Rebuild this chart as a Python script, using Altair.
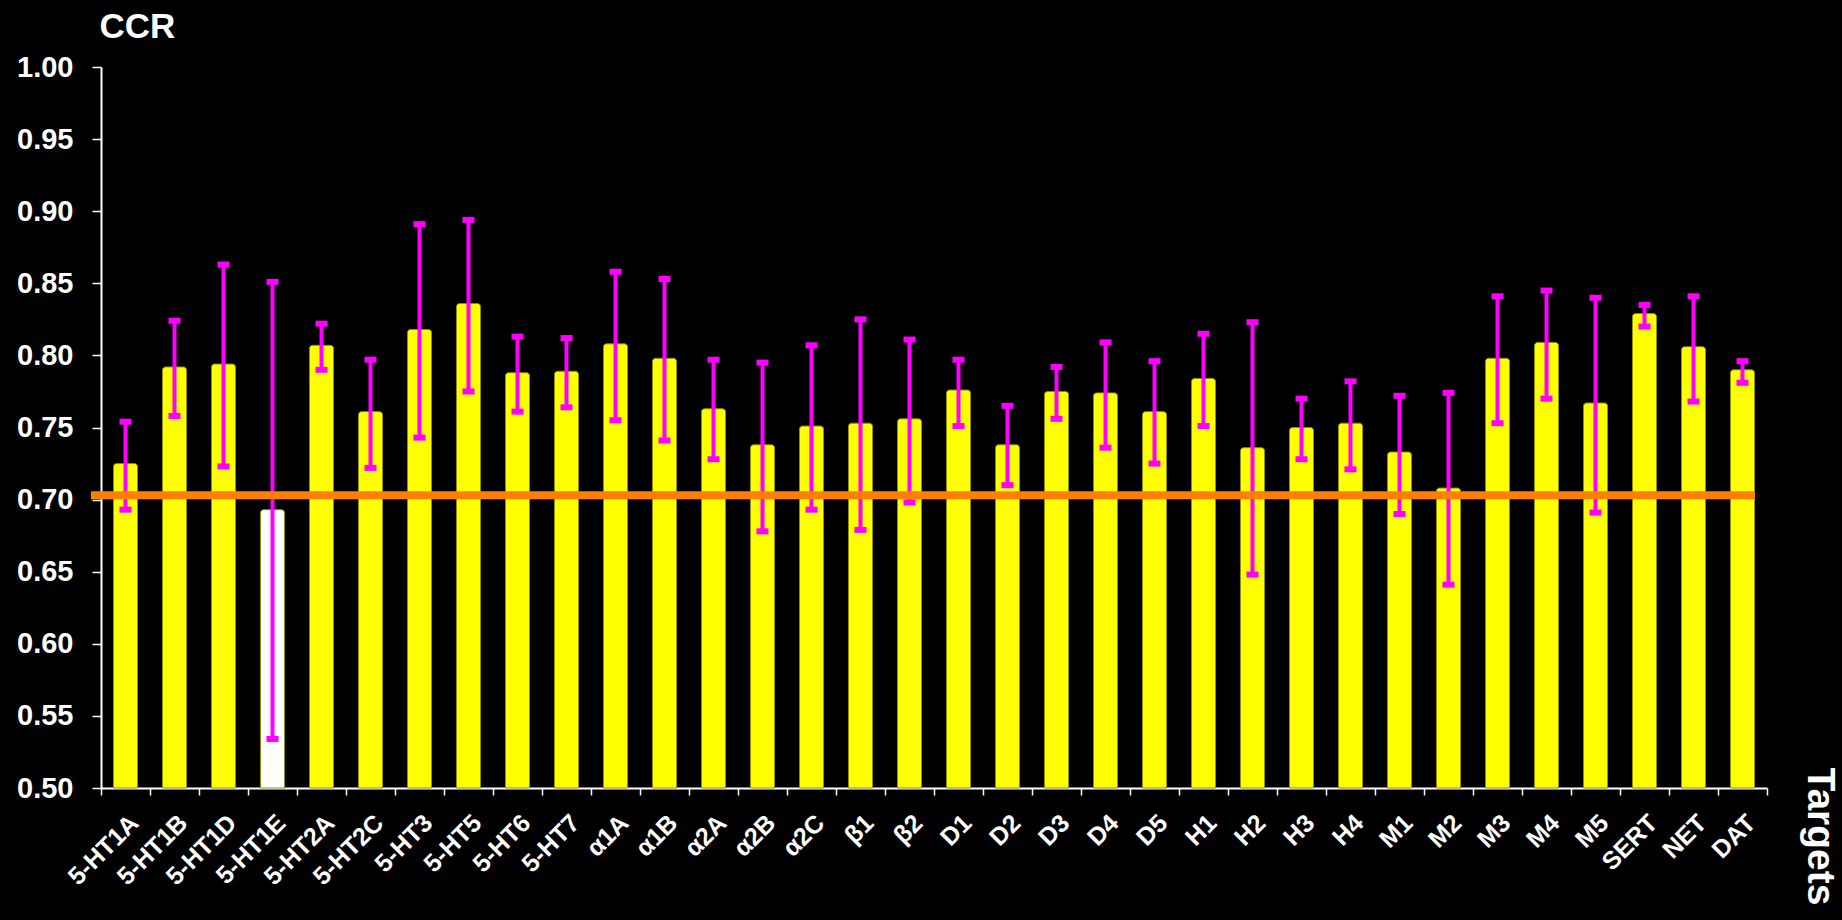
import altair as alt
import pandas as pd

targets = ["5-HT1A", "5-HT1B", "5-HT1D", "5-HT1E", "5-HT2A", "5-HT2C", "5-HT3",
           "5-HT5", "5-HT6", "5-HT7", "α1A", "α1B", "α2A", "α2B", "α2C", "β1",
           "β2", "D1", "D2", "D3", "D4", "D5", "H1", "H2", "H3", "H4", "M1", "M2",
           "M3", "M4", "M5", "SERT", "NET", "DAT"]

ccr = [0.725, 0.792, 0.794, 0.693, 0.807, 0.761, 0.818, 0.836, 0.788, 0.789,
       0.808, 0.798, 0.763, 0.738, 0.751, 0.753, 0.756, 0.776, 0.738, 0.775,
       0.774, 0.761, 0.784, 0.736, 0.750, 0.753, 0.733, 0.708, 0.798, 0.809,
       0.767, 0.829, 0.806, 0.790]

upper = [0.754, 0.824, 0.863, 0.851, 0.822, 0.797, 0.891, 0.894, 0.813, 0.812,
         0.858, 0.853, 0.797, 0.795, 0.807, 0.825, 0.811, 0.797, 0.765, 0.792,
         0.809, 0.796, 0.815, 0.823, 0.770, 0.782, 0.772, 0.774, 0.841, 0.845,
         0.840, 0.835, 0.841, 0.796]

lower = [0.693, 0.758, 0.723, 0.534, 0.790, 0.722, 0.743, 0.775, 0.761, 0.764,
         0.755, 0.741, 0.728, 0.678, 0.693, 0.679, 0.698, 0.751, 0.710, 0.756,
         0.736, 0.725, 0.751, 0.648, 0.728, 0.721, 0.690, 0.641, 0.753, 0.770,
         0.691, 0.820, 0.768, 0.781]

threshold = [0.703]

y_ticks = [0.50, 0.55, 0.60, 0.65, 0.70, 0.75, 0.80, 0.85, 0.90, 0.95, 1.00]

df = pd.DataFrame({"target": targets, "ccr": ccr, "upper": upper, "lower": lower})
ref_df = pd.DataFrame({"thr": threshold})

FONT = "Liberation Sans"

x_enc = alt.X(
    "target:N",
    sort=targets,
    scale=alt.Scale(paddingInner=0, paddingOuter=0),
    axis=alt.Axis(
        title="Targets",
        tickBand="extent",
        tickSize=7,
        tickColor="white",
        tickWidth=1.5,
        domainColor="white",
        domainWidth=2,
        labelAngle=-45,
        labelAlign="right",
        labelBaseline="top",
        labelPadding=15,
        labelFont=FONT,
        labelFontSize=25,
        labelFontWeight="bold",
        labelColor="white",
        labelOverlap=False,
        labelBound=False,
        labelFlush=False,
        titleFont=FONT,
        titleFontSize=39,
        titleFontWeight="bold",
        titleColor="white",
        titleAngle=90,
        titleAlign="left",
        titleBaseline="middle",
        titleX=1718,
        titleY=-21,
    ),
)

y_scale = alt.Scale(domain=[0.5, 1.0], zero=False, nice=False)
y_axis = alt.Axis(
    title="CCR",
    values=y_ticks,
    format=".2f",
    grid=False,
    tickSize=9,
    tickColor="white",
    tickWidth=1.5,
    domainColor="white",
    domainWidth=2,
    labelPadding=19,
    labelFont=FONT,
    labelFontSize=29,
    labelFontWeight="bold",
    labelColor="white",
    titleFont=FONT,
    titleFontSize=35,
    titleFontWeight="bold",
    titleColor="white",
    titleAngle=0,
    titleAlign="left",
    titleBaseline="alphabetic",
    titleX=-2,
    titleY=-30,
)

base = alt.Chart(df)

bars = base.mark_bar(
    width=24, stroke="#8f8f00", strokeWidth=1,
    cornerRadiusTopLeft=3, cornerRadiusTopRight=3,
).encode(
    x=x_enc,
    y=alt.Y("ccr:Q", scale=y_scale, axis=y_axis),
    y2=alt.datum(0.5),
    color=alt.condition(alt.datum.target == "5-HT1E",
                        alt.value("#FFFFFF"), alt.value("#FFFF00")),
)

whisk = base.mark_rule(color="#FF00FF", strokeWidth=4).encode(
    x=alt.X("target:N", sort=targets),
    y="lower:Q",
    y2="upper:Q",
)

cap_hi = base.mark_tick(color="#FF00FF", size=12, thickness=6, opacity=1).encode(
    x=alt.X("target:N", sort=targets),
    y="upper:Q",
)
cap_lo = base.mark_tick(color="#FF00FF", size=12, thickness=6, opacity=1).encode(
    x=alt.X("target:N", sort=targets),
    y="lower:Q",
)

ref = alt.Chart(ref_df).mark_rule(color="#FF8000", strokeWidth=8).encode(
    y="thr:Q",
    x=alt.value(-10),
    x2=alt.value(1654),
)

chart = alt.layer(bars, whisk, cap_hi, cap_lo, ref).properties(
    width=1666,
    height=721,
    background="#000000",
    padding={"left": 101, "top": 67, "right": 75, "bottom": 132},
    autosize=alt.AutoSizeParams(type="none"),
).configure_view(stroke=None)

chart.save("out.html", embed_options={"renderer": "svg", "actions": False})
